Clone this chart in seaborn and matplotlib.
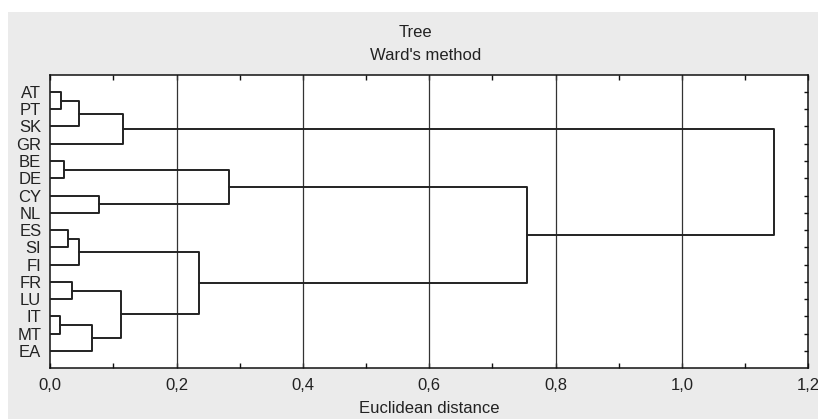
import numpy as np
import pandas as pd
import matplotlib
matplotlib.use("Agg")
import matplotlib.pyplot as plt
import seaborn as sns
from matplotlib.patches import Rectangle

# ---- data ----
leaves = ["AT", "PT", "SK", "GR", "BE", "DE", "CY", "NL",
          "ES", "SI", "FI", "FR", "LU", "IT", "MT", "EA"]
# merges: (left cluster, right cluster, new cluster name, height)
merge_left = ["AT", "C1", "C2", "BE", "CY", "C4", "ES", "C7", "FR", "IT", "C10", "C9", "C8", "C6", "C3"]
merge_right = ["PT", "SK", "GR", "DE", "NL", "C5", "SI", "FI", "LU", "MT", "EA", "C11", "C12", "C13", "C14"]
merge_name = ["C1", "C2", "C3", "C4", "C5", "C6", "C7", "C8", "C9", "C10", "C11", "C12", "C13", "C14", "C15"]
merge_height = [0.0174, 0.045, 0.1157, 0.021, 0.077, 0.2826, 0.0285, 0.045,
                0.034, 0.016, 0.0665, 0.1125, 0.2355, 0.754, 1.146]
xtick_values = [0.0, 0.2, 0.4, 0.6, 0.8, 1.0, 1.2]
xtick_labels = ["0,0", "0,2", "0,4", "0,6", "0,8", "1,0", "1,2"]
title_main = "Tree"
title_sub = "Ward's method"
x_label = "Euclidean distance"

# ---- build link segments ----
pos = {name: i for i, name in enumerate(leaves)}
hgt = {name: 0.0 for name in leaves}
rows = []
for k, (a, b, n, h) in enumerate(zip(merge_left, merge_right, merge_name, merge_height)):
    xs = [hgt[a], h, h, hgt[b]]
    ys = [pos[a], pos[a], pos[b], pos[b]]
    for j, (xv, yv) in enumerate(zip(xs, ys)):
        rows.append({"link": k, "order": j, "x": xv, "y": yv})
    pos[n] = (pos[a] + pos[b]) / 2.0
    hgt[n] = h
df = pd.DataFrame(rows)

# ---- figure ----
sns.set_style("white")
plt.rcParams["font.family"] = ["Liberation Sans", "DejaVu Sans"]
W, H = 818, 419
fig = plt.figure(figsize=(W / 100, H / 100), dpi=100)
fig.patches.append(Rectangle((8 / W, 0), 1, 1 - 12 / H, transform=fig.transFigure,
                             facecolor="#ebebeb", edgecolor="none", zorder=-10))

left, right, top, bottom = 50.3, 808.3, 74.7, 367.7
ax = fig.add_axes([left / W, 1 - bottom / H, (right - left) / W, (bottom - top) / H])
ax.set_facecolor("white")

for xv in xtick_values[1:-1]:
    ax.axvline(xv, color="#333333", lw=0.9, zorder=1)

sns.lineplot(data=df, x="x", y="y", units="link", estimator=None, sort=False,
             color="#222222", lw=1.4, ax=ax, zorder=3, legend=False)

ax.set_xlim(0, 1.2)
ax.set_ylim(15.97, -1.0)
ax.set_xticks(xtick_values)
ax.set_xticklabels(xtick_labels)
ax.set_xticks(np.arange(0.1, 1.2, 0.2), minor=True)
ax.set_yticks(range(len(leaves)))
ax.set_yticklabels(leaves)
ax.set_xlabel("")
ax.set_ylabel("")

for s in ax.spines.values():
    s.set_color("#111111")
    s.set_linewidth(1.1)

FS = 12
ax.tick_params(axis="x", which="both", direction="in", top=True, bottom=True,
               length=3.5, width=1, color="#111111", labelsize=FS, pad=7.5,
               labelcolor="#222222")
ax.tick_params(axis="y", which="major", direction="in", left=False, right=True,
               length=3, width=1, color="#111111", labelsize=FS, pad=6.5,
               labelcolor="#222222")

fig.text(415 / W, 1 - 32.7 / H, title_main, ha="center", va="center", fontsize=FS, color="#222222")
fig.text(426 / W, 1 - 55 / H, title_sub, ha="center", va="center", fontsize=FS, color="#222222")
fig.text(429 / W, 1 - 408 / H, x_label, ha="center", va="center", fontsize=FS, color="#222222")

fig.savefig("out.png", dpi=100)
